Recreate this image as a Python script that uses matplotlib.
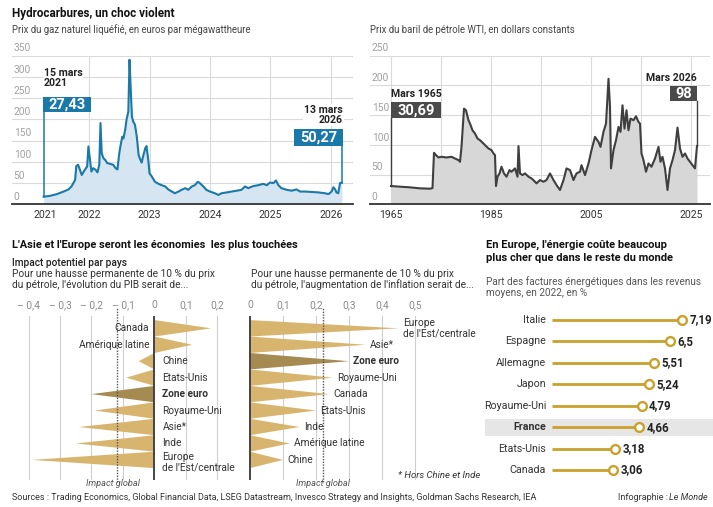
import matplotlib
matplotlib.use("Agg")
import matplotlib.pyplot as plt
from matplotlib.patches import Rectangle

plt.rcParams["font.family"] = ["Roboto", "DejaVu Sans"]

W, H = 713, 507

# --- gaz naturel liquéfié (€/MWh) ---
gas_years = [2021.25, 2021.36, 2021.47, 2021.58, 2021.66, 2021.71, 2021.77, 2021.79, 2021.82, 2021.85,
             2021.88, 2021.93, 2021.97, 2021.99, 2022.02, 2022.04, 2022.07, 2022.11, 2022.14, 2022.17,
             2022.19, 2022.21, 2022.24, 2022.27, 2022.30, 2022.35, 2022.40, 2022.44, 2022.47, 2022.50,
             2022.52, 2022.55, 2022.57, 2022.60, 2022.62, 2022.65, 2022.67, 2022.69, 2022.71, 2022.73,
             2022.76, 2022.79, 2022.82, 2022.84, 2022.87, 2022.90, 2022.93, 2022.95, 2022.98, 2023.00,
             2023.04, 2023.09, 2023.15, 2023.20, 2023.26, 2023.31, 2023.37, 2023.42,
             2023.48, 2023.53, 2023.59, 2023.64, 2023.70, 2023.75, 2023.80, 2023.83, 2023.89, 2023.94,
             2024.00, 2024.08, 2024.14, 2024.19, 2024.28, 2024.36, 2024.44, 2024.52, 2024.58, 2024.63,
             2024.72, 2024.80, 2024.88, 2024.94, 2024.99, 2025.05, 2025.09, 2025.13, 2025.18, 2025.27,
             2025.35, 2025.43, 2025.49, 2025.57, 2025.68, 2025.79, 2025.90, 2025.96, 2026.01, 2026.04,
             2026.07, 2026.09, 2026.12, 2026.15, 2026.18]
gas_values = [18, 20, 24, 30, 35, 42, 57, 90, 93, 81,
              69, 81, 89, 136, 100, 77, 85, 81, 75, 93,
              191, 120, 108, 104, 97, 95, 93, 85, 82, 120,
              137, 159, 155, 177, 199, 218, 340, 269, 206, 195,
              187, 159, 116, 108, 98, 116, 132, 137, 104, 73,
              65, 53, 48, 45, 42, 35, 30, 26,
              30, 34, 38, 34, 42, 45, 53, 50, 42, 34,
              30, 26, 22, 26, 28, 30, 32, 34, 42, 38,
              43, 45, 48, 45, 51, 50, 56, 45, 38, 34,
              32, 35, 30, 30, 29, 28, 26, 24, 30, 40,
              35, 28, 26, 50, 51]

# --- baril WTI en dollars constants ---
oil_years = [1965.0, 1966.8, 1968.8, 1970.8, 1972.8, 1973.3, 1973.6, 1974.0, 1974.5, 1975.1,
             1976.1, 1977.1, 1977.8, 1978.5, 1978.8, 1979.1, 1979.6, 1980.0, 1980.5, 1980.8,
             1981.3, 1981.8, 1982.3, 1982.8, 1983.5, 1984.0, 1984.5, 1985.1, 1985.5, 1985.8,
             1986.0, 1986.3, 1986.7, 1987.1, 1987.6, 1988.1, 1988.7, 1989.1, 1989.8, 1990.3,
             1990.5, 1990.8, 1991.3, 1991.8, 1992.5, 1993.1, 1993.8,
             1994.1, 1994.8, 1995.5, 1996.1, 1996.8, 1997.5, 1998.1, 1998.8, 1999.5, 2000.1,
             2000.8, 2001.5, 2002.1, 2002.8, 2003.1, 2003.8, 2004.5, 2005.1, 2005.8, 2006.5,
             2006.9, 2007.5, 2008.0, 2008.5, 2008.8, 2009.0, 2009.5, 2010.0, 2010.5, 2010.9,
             2011.3, 2011.7, 2012.1, 2012.5, 2012.9, 2013.5, 2014.0, 2014.5, 2014.8, 2015.1,
             2015.5, 2016.0, 2016.5, 2017.1, 2017.8, 2018.5, 2018.9, 2019.3, 2019.8, 2020.3,
             2020.8, 2021.3, 2021.8, 2022.3, 2022.8, 2023.3, 2023.8, 2024.3, 2024.8, 2025.3,
             2025.8, 2026.2]
oil_values = [30.7, 29.6, 28.5, 26.8, 26.2, 27.3, 86.5, 82.6, 78.7, 79.8,
              78.7, 79.8, 77, 74.2, 71.4, 96.5, 160.7, 157.9, 141.2, 135.6,
              124.4, 118.9, 110.5, 107.7, 102.1, 97.7, 93.8, 91, 85.4, 82.6,
              30.7, 46.3, 51.9, 63.1, 51.9, 46.3, 57.5, 54.7, 60.3, 46.3,
              97.7, 51.9, 49.1, 51.9, 46.3, 43.5, 37.9,
              35.2, 40.7, 37.9, 40.7, 51.9, 40.7, 32.4, 24, 40.7, 60.3,
              57.5, 40.7, 51.9, 54.7, 65.8, 49.1, 68.6, 91, 113.3, 104.9,
              96.5, 121.7, 135.6, 210.9, 163.5, 60.3, 91, 107.7, 130, 121.7,
              166.3, 127.2, 157.9, 124.4, 144, 141.2, 147.9, 138.4, 135.6, 85.4,
              74.2, 54.7, 68.6, 63.1, 76.9, 96.5, 71.4, 79.8, 60.3, 24,
              60.3, 74.2, 91, 128.9, 93.8, 79.8, 85.4, 77, 71.4, 65.8,
              60.3, 98]

# --- impact d'une hausse de 10 % du pétrole ---
gdp_countries = ["Canada", "Amérique latine", "Chine", "Etats-Unis", "Zone euro",
                 "Royaume-Uni", "Asie*", "Inde", "Europe\nde l'Est/centrale"]
gdp_values = [0.18, 0.12, -0.05, -0.09, -0.2, -0.19, -0.24, -0.25, -0.39]
gdp_global = -0.12

infl_countries = ["Europe\nde l'Est/centrale", "Asie*", "Zone euro", "Royaume-Uni", "Canada",
                  "Etats-Unis", "Inde", "Amérique latine", "Chine"]
infl_values = [0.45, 0.35, 0.3, 0.25, 0.24, 0.2, 0.15, 0.12, 0.1]
infl_global = 0.22

# --- part des factures énergétiques, 2022, en % ---
energy_countries = ["Italie", "Espagne", "Allemagne", "Japon", "Royaume-Uni", "France",
                    "Etats-Unis", "Canada"]
energy_values = [7.19, 6.5, 5.51, 5.24, 4.79, 4.66, 3.18, 3.06]
energy_labels = ["7,19", "6,5", "5,51", "5,24", "4,79", "4,66", "3,18", "3,06"]

BLUE = "#1a79a8"
BLUE_FILL = "#d5e5f1"
GREY_LINE = "#3f3f3f"
GREY_FILL = "#d7d7d7"
GOLD = "#d8b56f"
GOLD_DARK = "#a58a52"
LOLLI = "#c9a12c"
GRID = "#dadada"
DARK = "#222222"


def frac(x0, y0, x1, y1):
    # boîte en pixels (origine en haut à gauche) -> fraction de figure
    return [x0 / W, 1 - y1 / H, (x1 - x0) / W, (y1 - y0) / H]


def clean(ax):
    for s in ax.spines.values():
        s.set_visible(False)
    ax.set_xticks([])
    ax.set_yticks([])
    ax.patch.set_alpha(0)


fig = plt.figure(figsize=(W / 100, H / 100), dpi=100)
ov = fig.add_axes([0, 0, 1, 1], zorder=10)
ov.set_xlim(0, W)
ov.set_ylim(H, 0)
ov.axis("off")


def line_chart(box, xlim, ylim, ystep, xgrid, xticks, xlabels, years, values, lc, fc):
    ax = fig.add_axes(frac(*box))
    clean(ax)
    ax.set_xlim(*xlim)
    ax.set_ylim(*ylim)
    for v in range(ystep, ylim[1] + 1, ystep):
        ax.axhline(v, color=GRID, lw=0.8, zorder=0)
    for x in xgrid:
        ax.axvline(x, color=GRID, lw=0.8, zorder=0)
    for v in range(0, ylim[1] + 1, ystep):
        ax.annotate(str(v), xy=(0, v), xycoords=("axes fraction", "data"), xytext=(1.2, 1.5),
                    textcoords="offset points", ha="left", va="bottom", fontsize=7.3, color="#a0a0a0")
    ax.fill_between(years, 0, values, color=fc, lw=0, zorder=1)
    ax.plot(years, values, color=lc, lw=1.5, zorder=2, solid_joinstyle="round")
    ax.axhline(0, color="#333333", lw=1.3, zorder=3, clip_on=False)
    ax.set_xticks(xticks)
    ax.set_xticklabels(xlabels)
    ax.tick_params(axis="x", length=0, pad=4, labelsize=7.6, labelcolor="#333333")
    return ax


ax1 = line_chart((12, 55.5, 353, 204.3), (2020.727, 2026.364), (0, 350), 50,
                 [2022, 2023, 2024, 2025, 2026], [2021.27, 2022, 2023, 2024, 2025, 2026],
                 ["2021", "2022", "2023", "2024", "2025", "2026"], gas_years, gas_values, BLUE, BLUE_FILL)
ax2 = line_chart((370, 55.5, 710, 204.3), (1960.8, 2028.8), (0, 250), 50,
                 list(range(1965, 2026, 10)), [1965, 1985, 2005, 2025],
                 ["1965", "1985", "2005", "2025"], oil_years, oil_values, GREY_LINE, GREY_FILL)

# lignes de rappel des étiquettes
ax1.plot([gas_years[0]] * 2, [gas_values[0], 218], color=BLUE, lw=1.1, zorder=2)
ax1.plot([gas_years[-1]] * 2, [gas_values[-1], 137], color=BLUE, lw=1.1, zorder=2)
ax2.plot([oil_years[0]] * 2, [oil_values[0], 145], color=GREY_LINE, lw=1.0, zorder=2)
ax2.plot([oil_years[-1]] * 2, [oil_values[-1], 174], color=GREY_LINE, lw=1.0, zorder=2)


def value_box(x0, y0, x1, y1, txt, color):
    ov.add_patch(Rectangle((x0, y0), x1 - x0, y1 - y0, facecolor=color, edgecolor="none"))
    ov.text((x0 + x1) / 2, (y0 + y1) / 2 + 0.5, txt, ha="center", va="center", color="white",
            fontsize=10.5, fontweight="bold")


wb = dict(facecolor="white", edgecolor="none", pad=0.6)
ov.text(43.5, 78, "15 mars\n2021", ha="left", va="center", fontsize=7.6, fontweight="bold",
        color=DARK, linespacing=1.05, bbox=wb)
value_box(43.3, 96.5, 91, 111.7, "27,43", BLUE)
ov.text(342.7, 115, "13 mars\n2026", ha="right", va="center", fontsize=7.6, fontweight="bold",
        color=DARK, linespacing=1.05, bbox=wb)
value_box(294, 129, 342.7, 146, "50,27", BLUE)

ov.text(390.7, 94, "Mars 1965", ha="left", va="center", fontsize=7.6, fontweight="bold", color=DARK)
value_box(390.7, 101.7, 441, 118.3, "30,69", "#4a4a4a")
ov.text(696.7, 78, "Mars 2026", ha="right", va="center", fontsize=7.6, fontweight="bold", color=DARK)
value_box(670, 86, 696.7, 101, "98", "#4a4a4a")

# titres du haut
ov.text(12, 13, "Hydrocarbures, un choc violent", fontsize=8.4, fontweight="bold", color="#111111",
        va="center")
ov.text(12, 30, "Prix du gaz naturel liquéfié, en euros par mégawattheure", fontsize=6.9,
        color="#444444", va="center")
ov.text(370, 30, "Prix du baril de pétrole WTI, en dollars constants", fontsize=6.9,
        color="#444444", va="center")


def spike_chart(box, xlim, grid, ticklabels, values, names, dark_name, glob, inflation):
    ax = fig.add_axes(frac(*box))
    clean(ax)
    ax.set_xlim(*xlim)
    ax.set_ylim(9.222, -0.748)
    for v, lab in zip(grid, ticklabels):
        if v != 0:
            ax.axvline(v, color="#cfcfcf", lw=0.8, zorder=0)
        ax.annotate(lab, xy=(v, 1), xycoords=("data", "axes fraction"), xytext=(0, 8),
                    textcoords="offset points", ha="center", va="center", fontsize=7.4, color="#8a8a8a")
    for i, (v, name) in enumerate(zip(values, names)):
        col = GOLD_DARK if name == dark_name else GOLD
        ax.fill([0, v, 0], [i - 0.5, i, i + 0.5], color=col, lw=0, zorder=1)
        weight = "bold" if name == dark_name else "normal"
        if inflation:
            x, dx, ha = v, 3, "left"
        elif v > 0:
            x, dx, ha = 0, -3.8, "right"
        else:
            x, dx, ha = 0, 5.8, "left"
        dy = -2 if "\n" in name and not inflation else 0
        ax.annotate(name, xy=(x, i), xytext=(dx, dy), textcoords="offset points", ha=ha,
                    va="center", fontsize=7.3, color="#333333", fontweight=weight,
                    linespacing=1.05, zorder=4)
    ax.axvline(0, color="#444444", lw=1.4, zorder=2)
    ax.axvline(glob, ymin=-0.01, ymax=1.05, color="#555555", lw=1.0, ls=(0, (1, 1)),
               zorder=3, clip_on=False)
    return ax


ax3 = spike_chart((12, 316, 240, 480), (-0.4527, 0.2721), [-0.4, -0.3, -0.2, -0.1, 0, 0.1, 0.2],
                  ["– 0,4", "– 0,3", "– 0,2", "– 0,1", "0", "0,1", "0,2"],
                  gdp_values, gdp_countries, "Zone euro", gdp_global, False)
ax4 = spike_chart((244, 316, 480, 480), (-0.01818, 0.697), [0, 0.1, 0.2, 0.3, 0.4, 0.5],
                  ["0", "0,1", "0,2", "0,3", "0,4", "0,5"],
                  infl_values, infl_countries, "Zone euro", infl_global, True)

ov.text(113, 484, "Impact global", ha="center", va="center", fontsize=6.6, style="italic", color="#555555")
ov.text(323, 484, "Impact global", ha="center", va="center", fontsize=6.6, style="italic", color="#555555")
ov.text(398, 475, "* Hors Chine et Inde", ha="left", va="center", fontsize=6.8, style="italic",
        color="#333333")

ov.text(12, 245, "L'Asie et l'Europe seront les économies  les plus touchées", fontsize=7.9,
        fontweight="bold", color="#111111", va="center")
ov.text(12, 262.5, "Impact potentiel par pays", fontsize=7.3, fontweight="medium", color="#222222",
        va="center")
ov.text(12, 274.3, "Pour une hausse permanente de 10 % du prix", fontsize=7.3, color="#333333", va="center")
ov.text(12, 285, "du pétrole, l'évolution du PIB serait de...", fontsize=7.3, color="#333333", va="center")
ov.text(251, 274.3, "Pour une hausse permanente de 10 % du prix", fontsize=7.3, color="#333333",
        va="center")
ov.text(251, 285, "du pétrole, l'augmentation de l'inflation serait de...", fontsize=7.3,
        color="#333333", va="center")

# lollipop
ov.text(486, 245, "En Europe, l'énergie coûte beaucoup", fontsize=8, fontweight="bold",
        color="#111111", va="center")
ov.text(486, 258.3, "plus cher que dans le reste du monde", fontsize=8, fontweight="bold",
        color="#111111", va="center")
ov.text(486, 281.7, "Part des factures énergétiques dans les revenus", fontsize=7.2, color="#555555",
        va="center")
ov.text(486, 293.3, "moyens, en 2022, en %", fontsize=7.2, color="#555555", va="center")

ax5 = fig.add_axes(frac(485, 308, 713, 482))
clean(ax5)
ax5.set_xlim(-4.587, 9.066)
ax5.set_ylim(7.56, -0.56)
rows = list(range(len(energy_countries)))
fr = energy_countries.index("France")
ax5.axhspan(fr - 0.4, fr + 0.4, color="#e6e6e6", lw=0, zorder=0)
ax5.hlines(rows, -0.6, energy_values, color=LOLLI, lw=2.0, zorder=1)
ax5.scatter(energy_values, rows, s=40, facecolor="white", edgecolor=LOLLI, linewidth=1.7, zorder=2)
for i, (name, lab, v) in enumerate(zip(energy_countries, energy_labels, energy_values)):
    w = "bold" if name == "France" else "normal"
    ax5.text(-0.93, i, name, ha="right", va="center", fontsize=7.7, color="#333333", fontweight=w)
    ax5.text(v + 0.45, i, lab, ha="left", va="center", fontsize=8.3, color="#222222", fontweight="bold")

# pied de page
ov.text(12, 497, "Sources : Trading Economics, Global Financial Data, LSEG Datastream, Invesco Strategy "
        "and Insights, Goldman Sachs Research, IEA", fontsize=6.5, color="#333333", va="center")
fig.canvas.draw()
t = ov.text(708, 497, "Le Monde", ha="right", va="center", fontsize=6.5, style="italic", color="#333333")
w = t.get_window_extent(fig.canvas.get_renderer()).width
ov.text(708 - w - 1, 497, "Infographie :", ha="right", va="center", fontsize=6.5, color="#333333")

fig.savefig("out.png", dpi=100)
